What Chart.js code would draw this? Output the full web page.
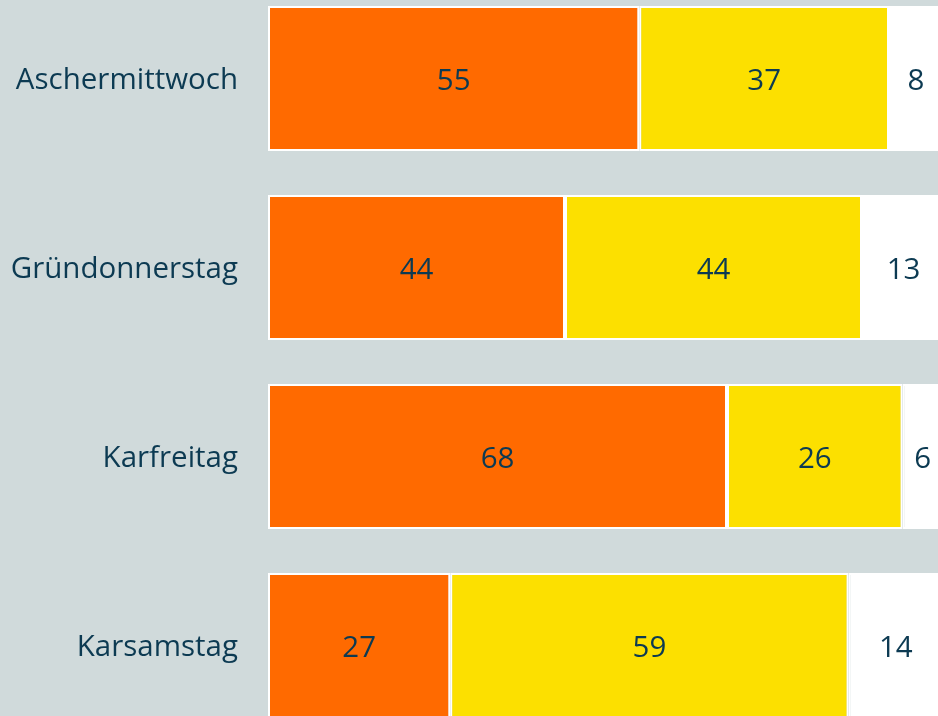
<!DOCTYPE html>
<html>
<head>
<meta charset="utf-8">
<script src="https://cdn.jsdelivr.net/npm/chart.js@4/dist/chart.umd.min.js"></script>
<style>
  html, body { margin: 0; padding: 0; background: #d0dadb; overflow: hidden; }
  body { width: 938px; height: 716px; position: relative; }
  #wrap { position: absolute; left: 0; top: -16px; width: 943px; height: 756px; }
</style>
</head>
<body>
<div id="wrap"><canvas id="chart"></canvas></div>
<script>
const days = ['Aschermittwoch', 'Gründonnerstag', 'Karfreitag', 'Karsamstag'];
const orangeVals = [55, 44, 68, 27];
const yellowVals = [37, 44, 26, 59];
const whiteVals = [8, 13, 6, 14];

const NAVY = '#0c3a52';
const FONT = '"Open Sans", sans-serif';

// Zahlen mittig in jedes Segment schreiben (sichtbarer Teil)
const segmentLabels = {
    id: 'segmentLabels',
    afterDatasetsDraw(chart) {
        const ctx = chart.ctx;
        const area = chart.chartArea;
        ctx.save();
        ctx.font = '29.5px ' + FONT;
        ctx.fillStyle = NAVY;
        ctx.textAlign = 'center';
        ctx.textBaseline = 'middle';
        chart.data.datasets.forEach((ds, di) => {
            chart.getDatasetMeta(di).data.forEach((bar, i) => {
                const p = bar.getProps(['x', 'y', 'base']);
                const right = Math.min(p.x, area.right + 2);
                ctx.fillText(String(ds.data[i]), (p.base + right) / 2, p.y + 3);
            });
        });
        ctx.restore();
    }
};

function segment(label, data, color) {
    return {
        label: label,
        data: data,
        backgroundColor: color,
        borderColor: '#ffffff',
        borderWidth: 2,
        borderSkipped: false,
        categoryPercentage: 0.767,
        barPercentage: 1.0,
    };
}

new Chart(document.getElementById('chart'), {
    type: 'bar',
    data: {
        labels: days,
        datasets: [
            segment('orange', orangeVals, '#ff6a00'),
            segment('gelb', yellowVals, '#fce000'),
            segment('weiß', whiteVals, '#ffffff'),
        ]
    },
    options: {
        indexAxis: 'y',
        responsive: true,
        maintainAspectRatio: false,
        animation: false,
        layout: { padding: 0 },
        scales: {
            x: { stacked: true, display: false, min: 0, max: 100 },
            y: {
                stacked: true,
                grid: { display: false, drawTicks: false },
                border: { display: false },
                ticks: { color: NAVY, padding: 30, labelOffset: 2, font: { size: 29.5, family: FONT } },
                afterFit: s => {
                    s.width = 268;
                    s.paddingTop = 0;
                    s.paddingBottom = 0;
                }
            }
        },
        plugins: {
            legend: { display: false },
            tooltip: { enabled: false }
        }
    },
    plugins: [segmentLabels]
});
</script>
</body>
</html>
